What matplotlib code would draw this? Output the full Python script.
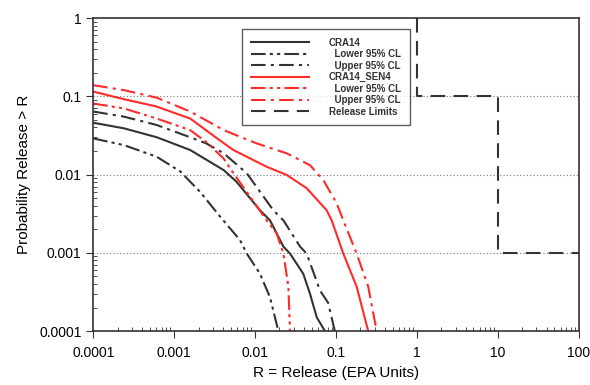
import matplotlib.pyplot as plt

plt.rcParams['font.family'] = ['Liberation Sans', 'DejaVu Sans']

# CRA14 CCDF curves (release in EPA units vs. exceedance probability)
cra_x = [0.0001, 0.00024, 0.00061, 0.00158, 0.0041, 0.0059, 0.0115, 0.0153, 0.0224, 0.027,
         0.0394, 0.0477, 0.0578, 0.073]
cra_y = [0.046, 0.039, 0.030, 0.0206, 0.0114, 0.0081, 0.0035, 0.0026, 0.0012, 0.00098,
         0.00054, 0.0003, 0.00015, 0.0001]

cra_lo_x = [0.0001, 0.00024, 0.00061, 0.0012, 0.00158, 0.0021, 0.0037, 0.0065, 0.0079,
            0.0115, 0.0153, 0.0194]
cra_lo_y = [0.029, 0.0238, 0.0169, 0.0109, 0.0081, 0.006, 0.0029, 0.00146, 0.00098,
            0.00054, 0.00027, 0.0001]

cra_hi_x = [0.0001, 0.00024, 0.00061, 0.00158, 0.0025, 0.0041, 0.0079, 0.0168, 0.0224,
            0.036, 0.0434, 0.0634, 0.080, 0.0967]
cra_hi_y = [0.064, 0.055, 0.043, 0.030, 0.025, 0.0187, 0.0104, 0.0035, 0.0026,
            0.0012, 0.00098, 0.00033, 0.00023, 0.0001]

# CRA14_SEN4
sen_x = [0.0001, 0.00024, 0.00061, 0.00158, 0.0034, 0.0054, 0.0139, 0.0246, 0.0434,
         0.0766, 0.0885, 0.123, 0.18, 0.25]
sen_y = [0.115, 0.092, 0.074, 0.052, 0.029, 0.0206, 0.0126, 0.0099, 0.0067,
         0.0035, 0.0026, 0.00098, 0.00037, 0.0001]

sen_lo_x = [0.0001, 0.00024, 0.00061, 0.00158, 0.0025, 0.0041, 0.0054, 0.0087, 0.0139,
            0.0185, 0.0224, 0.0258, 0.027]
sen_lo_y = [0.081, 0.070, 0.052, 0.037, 0.026, 0.016, 0.0104, 0.0052, 0.0026,
            0.00177, 0.00098, 0.00037, 0.0001]

sen_hi_x = [0.0001, 0.00024, 0.00061, 0.00158, 0.0041, 0.0105, 0.0246, 0.0477, 0.0697,
            0.102, 0.123, 0.18, 0.25, 0.318]
sen_hi_y = [0.139, 0.12, 0.096, 0.064, 0.037, 0.025, 0.0187, 0.0132, 0.0085,
            0.0043, 0.0026, 0.00098, 0.00037, 0.0001]

# EPA release limits (step)
lim_x = [1, 1, 10, 10, 100]
lim_y = [1, 0.1, 0.1, 0.001, 0.001]

dark = '#333333'
red = '#ff2a2a'
dd = (0, (7, 2, 1.5, 2, 1.5, 2))
d = (0, (7, 2.5, 1.5, 2.5))

fig = plt.figure(figsize=(5.9, 3.85), dpi=100)
ax = fig.add_axes([0.158, 0.140, 0.823, 0.813])

ax.plot(cra_x, cra_y, color=dark, lw=1.5, label='CRA14')
ax.plot(cra_lo_x, cra_lo_y, color=dark, lw=1.5, ls=dd, label='  Lower 95% CL')
ax.plot(cra_hi_x, cra_hi_y, color=dark, lw=1.5, ls=d, label='  Upper 95% CL')
ax.plot(sen_x, sen_y, color=red, lw=1.5, label='CRA14_SEN4')
ax.plot(sen_lo_x, sen_lo_y, color=red, lw=1.5, ls=dd, label='  Lower 95% CL')
ax.plot(sen_hi_x, sen_hi_y, color=red, lw=1.5, ls=d, label='  Upper 95% CL')
ax.plot(lim_x, lim_y, color=dark, lw=1.5, ls=(0, (7, 4)), label='Release Limits')

ax.set_xscale('log')
ax.set_yscale('log')
ax.set_xlim(0.0001, 100)
ax.set_ylim(0.0001, 1)
ax.set_xticks([0.0001, 0.001, 0.01, 0.1, 1, 10, 100])
ax.set_xticklabels(['0.0001', '0.001', '0.01', '0.1', '1', '10', '100'])
ax.set_yticks([0.0001, 0.001, 0.01, 0.1, 1])
ax.set_yticklabels(['0.0001', '0.001', '0.01', '0.1', '1'])

for yv in [0.1, 0.01, 0.001]:
    ax.axhline(yv, color='#777777', lw=0.8, ls=(0, (1, 2)), zorder=0)

ax.tick_params(which='major', direction='out', length=5, labelsize=10, color=dark)
ax.tick_params(which='minor', direction='in', length=3, color=dark)
ax.tick_params(axis='x', pad=6)
for s in ax.spines.values():
    s.set_color(dark)
    s.set_linewidth(1.2)

ax.set_xlabel('R = Release (EPA Units)', fontsize=11, labelpad=4)
ax.set_ylabel('Probability Release > R', fontsize=11, labelpad=6)

leg = ax.legend(loc='upper left', bbox_to_anchor=(0.307, 0.965),
                prop={'weight': 'bold', 'size': 7}, frameon=True, fancybox=False,
                handlelength=6, labelspacing=0.15, borderpad=0.9, handletextpad=2.0,
                borderaxespad=0)
leg.get_frame().set_edgecolor(dark)
leg.get_frame().set_linewidth(1.0)
for t in leg.get_texts():
    t.set_color(dark)

fig.savefig('out.png', dpi=100)
